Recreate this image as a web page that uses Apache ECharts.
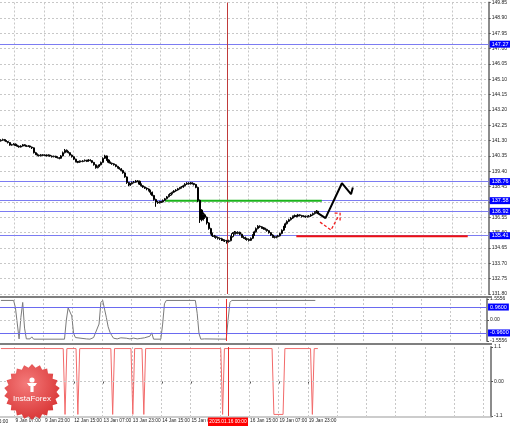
<!DOCTYPE html>
<html><head><meta charset="utf-8">
<script src="https://cdn.jsdelivr.net/npm/echarts@6/dist/echarts.min.js"></script>
<style>html,body{margin:0;padding:0;background:#fff}#c{width:510px;height:426px}</style>
</head><body><div id="c"></div>
<script>
// ---- categories (hourly bars, weekends skipped) ----
const categories = [];
(function(){let d=new Date(Date.UTC(2015,0,8,23));while(categories.length<268){const wd=d.getUTCDay();if(wd!==0&&wd!==6){categories.push(d.getUTCDate()+' Jan '+String(d.getUTCHours()).padStart(2,'0')+':00');}d=new Date(d.getTime()+3600000);}})();

// ---- price axis ----
const priceMin = 131.80, priceMax = 149.85, priceStep = 0.95;

// ---- candles [open, close, low, high] ----
const candles = [
[141.28,141.32,141.24,141.38],[141.32,141.36,141.28,141.42],[141.36,141.30,141.26,141.40],[141.30,141.24,141.20,141.33],[141.24,141.18,141.12,141.27],
[141.18,141.02,140.98,141.20],[141.02,141.05,140.98,141.10],[141.05,141.08,141.01,141.14],[141.08,141.00,140.96,141.12],[141.00,140.95,140.90,141.04],
[140.95,140.90,140.86,141.00],[140.90,140.96,140.87,141.01],[140.96,141.04,140.93,141.09],[141.04,141.00,140.95,141.08],[141.00,140.94,140.90,141.03],
[140.94,140.97,140.90,141.02],[140.97,140.90,140.86,141.00],[140.90,140.85,140.78,140.93],[140.85,140.55,140.50,140.88],[140.55,140.45,140.40,140.60],
[140.45,140.40,140.34,140.50],[140.40,140.36,140.31,140.44],[140.36,140.42,140.32,140.47],[140.42,140.38,140.33,140.46],[140.38,140.40,140.34,140.45],
[140.40,140.36,140.31,140.44],[140.36,140.40,140.32,140.45],[140.40,140.34,140.30,140.43],[140.34,140.30,140.25,140.38],[140.30,140.33,140.26,140.37],
[140.33,140.28,140.23,140.36],[140.28,140.24,140.19,140.32],[140.24,140.20,140.14,140.28],[140.20,140.35,140.17,140.40],[140.35,140.55,140.32,140.62],
[140.55,140.70,140.50,140.78],[140.70,140.62,140.57,140.75],[140.62,140.55,140.50,140.66],[140.55,140.40,140.36,140.58],[140.40,140.30,140.25,140.44],
[140.30,140.15,140.10,140.33],[140.15,140.00,139.95,140.18],[140.00,139.96,139.90,140.04],[139.96,140.02,139.92,140.07],[140.02,140.00,139.95,140.06],
[140.00,140.04,139.96,140.09],[140.04,140.08,140.00,140.13],[140.08,140.02,139.97,140.11],[140.02,140.10,139.99,140.15],[140.10,140.06,140.01,140.14],
[140.06,139.95,139.90,140.09],[139.95,139.80,139.75,139.98],[139.80,139.62,139.56,139.83],[139.62,139.70,139.58,139.75],[139.70,139.80,139.66,139.85],
[139.80,139.95,139.76,140.00],[139.95,140.20,139.92,140.26],[140.20,140.35,140.16,140.42],[140.35,140.10,140.05,140.38],[140.10,139.96,139.90,140.14],
[139.96,139.90,139.85,140.00],[139.90,139.86,139.80,139.94],[139.86,139.80,139.75,139.90],[139.80,139.70,139.65,139.84],[139.70,139.62,139.57,139.74],
[139.62,139.55,139.50,139.66],[139.55,139.45,139.40,139.59],[139.45,139.30,139.25,139.49],[139.30,139.05,139.00,139.34],[139.05,138.70,138.62,139.08],
[138.70,138.55,138.48,138.74],[138.55,138.62,138.50,138.68],[138.62,138.70,138.58,138.76],[138.70,138.72,138.65,138.80],[138.72,138.80,138.68,138.86],
[138.80,138.78,138.72,138.85],[138.78,138.60,138.55,138.82],[138.60,138.50,138.45,138.64],[138.50,138.42,138.37,138.54],[138.42,138.35,138.30,138.46],
[138.35,138.30,138.22,138.40],[138.30,138.22,138.15,138.34],[138.22,138.10,137.95,138.26],[138.10,137.90,137.85,138.14],[137.90,137.65,137.58,137.94],
[137.65,137.50,137.20,137.70],[137.50,137.45,137.38,137.56],[137.45,137.52,137.40,137.57],[137.52,137.50,137.44,137.56],[137.50,137.60,137.46,137.65],
[137.60,137.70,137.55,137.75],[137.70,137.82,137.66,137.87],[137.82,137.92,137.78,137.97],[137.92,138.02,137.88,138.07],[138.02,138.10,137.97,138.15],
[138.10,138.18,138.05,138.23],[138.18,138.24,138.13,138.29],[138.24,138.32,138.20,138.37],[138.32,138.38,138.27,138.43],[138.38,138.42,138.33,138.48],
[138.42,138.50,138.38,138.56],[138.50,138.60,138.46,138.66],[138.60,138.66,138.55,138.72],[138.66,138.62,138.57,138.72],[138.62,138.68,138.58,138.74],
[138.68,138.64,138.58,138.72],[138.64,138.58,138.52,138.68],[138.58,138.40,138.35,138.62],[138.40,137.60,137.50,138.44],[137.60,137.00,136.20,137.65],
[137.00,136.40,136.30,137.05],[136.40,136.70,136.35,136.85],[136.70,136.55,136.45,136.78],[136.55,136.20,136.10,136.60],[136.20,135.85,135.78,136.25],
[135.85,135.55,135.48,135.90],[135.55,135.40,135.33,135.60],[135.40,135.36,135.28,135.46],[135.36,135.30,135.22,135.42],[135.30,135.25,135.17,135.36],
[135.25,135.22,135.14,135.30],[135.22,135.15,135.08,135.28],[135.15,135.12,135.05,135.20],[135.12,135.10,135.02,135.18],[135.10,135.05,134.92,135.15],
[135.05,135.10,134.98,135.16],[135.10,135.35,135.06,135.40],[135.35,135.55,135.30,135.62],[135.55,135.62,135.48,135.70],[135.62,135.55,135.48,135.68],
[135.55,135.62,135.50,135.68],[135.62,135.50,135.44,135.66],[135.50,135.35,135.28,135.54],[135.35,135.30,135.22,135.40],[135.30,135.22,135.15,135.35],
[135.22,135.18,135.10,135.28],[135.18,135.12,135.05,135.24],[135.12,135.25,135.08,135.30],[135.25,135.45,135.20,135.50],[135.45,135.65,135.40,135.72],
[135.65,135.85,135.60,135.92],[135.85,136.00,135.80,136.06],[136.00,135.96,135.90,136.05],[135.96,135.90,135.84,136.00],[135.90,135.85,135.78,135.95],
[135.85,135.80,135.73,135.90],[135.80,135.72,135.66,135.84],[135.72,135.60,135.54,135.76],[135.60,135.45,135.40,135.64],[135.45,135.35,135.28,135.50],
[135.35,135.30,135.24,135.40],[135.30,135.35,135.25,135.40],[135.35,135.40,135.30,135.46],[135.40,135.55,135.36,135.60],[135.55,135.75,135.50,135.80],
[135.75,135.95,135.70,136.02],[135.95,136.15,135.90,136.22],[136.15,136.30,136.10,136.36],[136.30,136.40,136.25,136.46],[136.40,136.50,136.35,136.56],
[136.50,136.60,136.45,136.66],[136.60,136.65,136.54,136.72],[136.65,136.62,136.55,136.70],[136.62,136.70,136.56,136.76],[136.70,136.66,136.60,136.74],
[136.66,136.60,136.54,136.70],[136.60,136.62,136.55,136.68],[136.62,136.58,136.52,136.66],[136.58,136.60,136.53,136.66],[136.60,136.63,136.55,136.69],
[136.63,136.70,136.58,136.76],[136.70,136.78,136.65,136.84],[136.78,136.85,136.72,136.92],[136.85,136.92,136.80,137.00],[136.92,136.80,136.75,136.96]
];

// ---- horizontal levels ----
const blueLevels = [147.27, 138.76, 137.58, 136.92, 135.41];
const greenLevel = [[90,137.58],[176,137.58]];
const redLevel = [[162,135.38],[256,135.38]];
const blackArrow = [[173,136.87],[178,136.50],[187,138.66],[192,137.98],[193,138.40]];
const redDashArrow = [[175,136.25],[181,135.76],[185,136.60]];
const redDashHead = [[183,136.81],[186,136.81],[186,136.25]];

// ---- indicator 1 (panel 2) ----
const ind1Range = [-1.5556, 1.5556];
const ind1Levels = [0.96, -0.96];
const ind1 = [[0,1.45],[7,1.45],[8,0.9],[10,-1.40],[11,0.2],[12,1.30],[13,-0.6],[14,-1.40],[16,-1.40],[17,-1.25],[18,-1.42],[35,-1.42],[36,0.0],[37,0.90],[38,0.95],[39,0.3],[40,-1.0],[41,-1.30],[42,-1.40],[47,-1.40],[48,-1.36],[49,-1.42],[51,-1.30],[52,-1.42],[54,-0.3],[55,1.30],[56,1.45],[57,1.40],[58,0.2],[59,-0.5],[60,-0.9],[61,-1.15],[62,-1.35],[63,-1.28],[64,-1.40],[66,-1.32],[67,-1.40],[69,-1.35],[71,-1.40],[73,-1.34],[75,-1.40],[77,-1.36],[79,-1.32],[80,-1.40],[82,-1.20],[83,-0.95],[84,-1.42],[88,-1.42],[89,-0.3],[90,1.2],[91,1.45],[107,1.45],[108,0.5],[109,-1.0],[110,-1.42],[111,-1.28],[112,-1.40],[124,-1.42],[125,0.0],[126,1.3],[127,1.45],[173,1.45]];

// ---- indicator 2 (panel 3) ----
const ind2Range = [-1.1, 1.1];
const ind2 = [[0,1.05],[34,1.05],[35,-1.05],[36,1.05],[41,1.05],[42,-1.05],[43,1.05],[60,1.05],[61,-1.05],[62,1.05],[71,1.05],[72,-1.05],[73,1.05],[77,1.05],[78,-1.05],[79,1.05],[120,1.05],[121,-1.05],[122,1.05],[148,1.05],[149,-1.05],[154,-1.05],[155,1.05],[169,1.05],[170,-1.05],[171,1.05],[173,1.05]];

// ---- time axis ----
const crossIndex = 124;
const crossLabel = '2015.01.16 00:00';
const firstLabelIndex = 8, labelEvery = 16, lastLabelIndex = 168;

const chart = echarts.init(document.getElementById('c'), null, {renderer:'canvas'});
const W = 491;
const isTick = i => i >= 0 && (i - firstLabelIndex) % labelEvery === 0;
const gridLine = {show:true, lineStyle:{color:'#c8c8c8', type:[2,2], width:1}};
const fontBase = {fontFamily:'Liberation Sans', color:'#222'};

function xAxisFor(gridIndex, showLabel){
  return {type:'category', gridIndex, data:categories, boundaryGap:true,
    axisLine:{show:false},
    axisTick:{show:showLabel, alignWithLabel:true, length:2, lineStyle:{color:'#555'}, interval:(i)=>isTick(i)&&i<=lastLabelIndex&&i!==120},
    axisLabel:{show:showLabel, interval:(i)=>isTick(i)&&i<=lastLabelIndex&&i!==120, align:'left', fontSize:4.8, margin:2, ...fontBase},
    splitLine:{...gridLine, interval:(i)=>isTick(i)}};
}
function yAxisFor(gridIndex, min, max, interval, fmt, split){
  return {type:'value', gridIndex, position:'right', min, max, interval, scale:true,
    axisLine:{show:true, lineStyle:{color:'#8c8c8c', width:2}},
    axisTick:{show:true, length:2, lineStyle:{color:'#555'}},
    axisLabel:{show:true, fontSize:5, margin:3, formatter:fmt, showMinLabel:true, showMaxLabel:true, ...fontBase},
    splitLine: split ? gridLine : {show:false}};
}
const blueLabel = t => ({show:true, position:'end', distance:1, formatter:t, backgroundColor:'#0000ff', color:'#fff', fontSize:5.5, padding:[1,2,0,2], fontFamily:'Liberation Sans'});

// star for logo
const star=[];(function(){const n=22,cx=32,cy=392,R=28,r=24.5;for(let k=0;k<n*2;k++){const a=Math.PI*k/n-Math.PI/2;const rr=k%2?r:R;star.push([cx+rr*Math.cos(a),cy+rr*Math.sin(a)]);}})();

chart.setOption({
  animation:false,
  backgroundColor:'#ffffff',
  grid:[
    {left:0, width:W, top:2, height:292},
    {left:0, width:W, top:299, height:42},
    {left:0, width:W, top:347, height:69}
  ],
  xAxis:[xAxisFor(0,false), xAxisFor(1,false), xAxisFor(2,true)],
  yAxis:[
    yAxisFor(0, priceMin, priceMax, priceStep, v=>v.toFixed(2), true),
    yAxisFor(1, ind1Range[0], ind1Range[1], ind1Range[1], v=>Math.abs(v)<1e-9?'0.00':v.toFixed(4), false),
    yAxisFor(2, ind2Range[0], ind2Range[1], ind2Range[1], v=>Math.abs(v)<1e-9?'0.00':v.toFixed(1), false)
  ],
  series:[
    {type:'line', xAxisIndex:0, yAxisIndex:0, data:[], z:1, silent:true,
      markLine:{silent:true, symbol:'none', animation:false,
        data:[...blueLevels.map(v=>({yAxis:v, lineStyle:{color:'#7c7cf2', width:1, type:'solid'}, label:blueLabel(v.toFixed(2))})),
              {xAxis:crossIndex, lineStyle:{color:'#c03a3a', width:1, type:'solid'}, label:{show:false}}]}},
    {type:'line', xAxisIndex:0, yAxisIndex:0, data:greenLevel, symbol:'none', lineStyle:{color:'#1cb41c', width:2}, z:6, silent:true},
    {type:'candlestick', xAxisIndex:0, yAxisIndex:0, data:candles, barWidth:1.6, z:7,
      itemStyle:{color:'#ffffff', color0:'#000000', borderColor:'#000000', borderColor0:'#000000', borderWidth:1}},
    {type:'line', xAxisIndex:0, yAxisIndex:0, data:redLevel, symbol:'none', lineStyle:{color:'#f01010', width:2}, z:8, silent:true},
    {type:'line', xAxisIndex:0, yAxisIndex:0, data:blackArrow, symbol:'none', lineStyle:{color:'#000', width:2}, z:8, silent:true},
    {type:'line', xAxisIndex:0, yAxisIndex:0, data:redDashArrow, symbol:'none', lineStyle:{color:'#f02020', width:1.3, type:[3,2]}, z:8, silent:true},
    {type:'line', xAxisIndex:0, yAxisIndex:0, data:redDashHead, symbol:'none', lineStyle:{color:'#f02020', width:1.3, type:[3,2]}, z:8, silent:true},
    {type:'line', xAxisIndex:1, yAxisIndex:1, data:ind1, symbol:'none', lineStyle:{color:'#7a7a7a', width:1}, z:4, silent:true,
      markLine:{silent:true, symbol:'none', animation:false,
        data:[...ind1Levels.map(v=>({yAxis:v, lineStyle:{color:'#6a6af0', width:1, type:'solid'}, label:blueLabel(v.toFixed(4))})),
              {yAxis:0, lineStyle:{color:'#c8c8c8', width:1, type:[2,2]}, label:{show:false}},
              {xAxis:crossIndex, lineStyle:{color:'#e83030', width:1, type:'solid'}, label:{show:false}}]}},
    {type:'line', xAxisIndex:2, yAxisIndex:2, data:ind2, symbol:'none', lineStyle:{color:'#f26a6a', width:1}, z:4, silent:true,
      markLine:{silent:true, symbol:'none', animation:false,
        data:[{yAxis:0, lineStyle:{color:'#c8c8c8', width:1, type:[2,2]}, label:{show:false}},
              {xAxis:crossIndex, lineStyle:{color:'#e83030', width:1, type:'solid'}, label:{show:false}}]}}
  ],
  graphic:[
    {type:'rect', shape:{x:0,y:296,width:W+1,height:2}, style:{fill:'#7f7f7f'}, z:10, silent:true},
    {type:'rect', shape:{x:0,y:343,width:W+1,height:2}, style:{fill:'#7f7f7f'}, z:10, silent:true},
    {type:'rect', shape:{x:0,y:416.5,width:W+1,height:1}, style:{fill:'#9a9a9a'}, z:10, silent:true},
    {type:'text', x:-17, y:419, style:{text:'8 Jan 15:00', fontSize:4.8, fontFamily:'Liberation Sans', fill:'#222'}, z:10, silent:true},
    {type:'rect', shape:{x:208,y:417.5,width:40,height:8.5}, style:{fill:'#ff0000'}, z:11, silent:true},
    {type:'text', x:228, y:419, style:{text:crossLabel, fontSize:4.8, fontFamily:'Liberation Sans', fill:'#fff', align:'center'}, z:12, silent:true},
    {type:'polygon', shape:{points:star}, style:{fill:new echarts.graphic.RadialGradient(0.4,0.35,0.8,[{offset:0,color:'#f47a7a'},{offset:1,color:'#d42a2a'}])}, z:20, silent:true},
    {type:'circle', shape:{cx:32,cy:380,r:2.6}, style:{fill:'#fff'}, z:21, silent:true},
    {type:'polygon', shape:{points:[[27,383],[37,383],[35,386],[33.6,386],[33.6,392],[30.4,392],[30.4,386],[29,386]]}, style:{fill:'#fff'}, z:21, silent:true},
    {type:'text', x:32, y:395, style:{text:'InstaForex', fontSize:8, fontFamily:'Liberation Sans', fill:'#fff', align:'center'}, z:21, silent:true}
  ]
});
</script></body></html>
